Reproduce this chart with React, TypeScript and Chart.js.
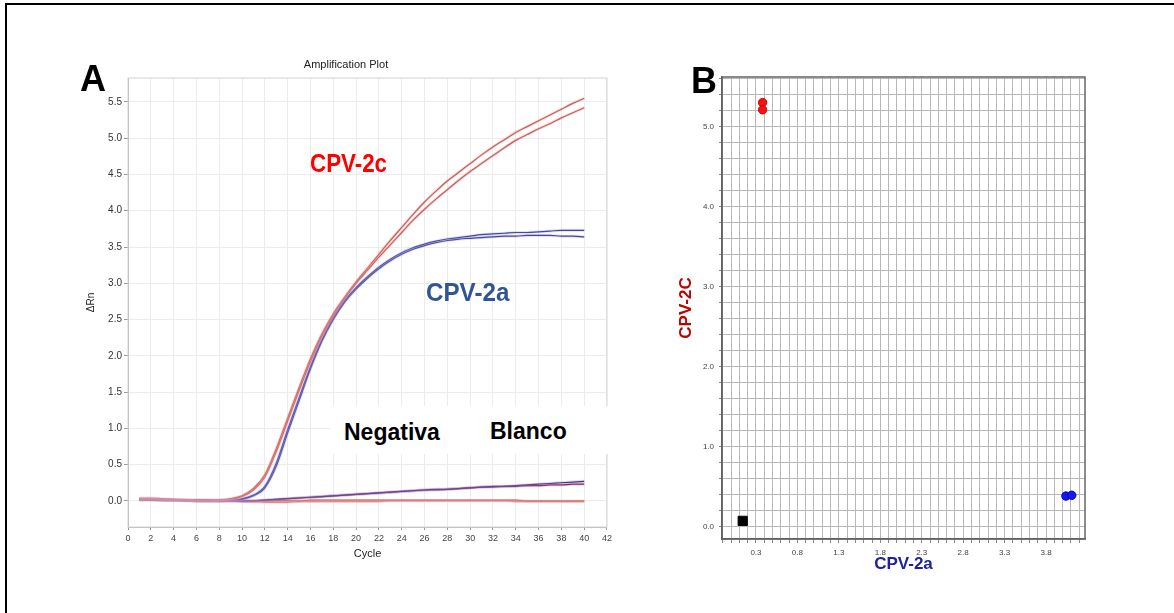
import React, { useEffect, useRef } from 'react';
import { Chart, registerables } from 'chart.js';

Chart.register(...registerables);

const FONT = '"Liberation Sans", Arial, sans-serif';

// ---------- Panel A: amplification plot (ΔRn vs cycle) ----------
const cycles = [1, 2, 3, 4, 5, 6, 7, 8, 9, 10, 11, 12, 13, 14, 15, 16, 17, 18, 19, 20,
  21, 22, 23, 24, 25, 26, 27, 28, 29, 30, 31, 32, 33, 34, 35, 36, 37, 38, 39, 40];

const cpv2cUpper = [0.03, 0.03, 0.02, 0.02, 0.01, 0.01, 0.01, 0.01, 0.03, 0.07, 0.17, 0.36, 0.72, 1.14, 1.56, 1.96, 2.3, 2.58, 2.81, 3.02,
  3.21, 3.4, 3.59, 3.77, 3.95, 4.12, 4.27, 4.41, 4.53, 4.65, 4.77, 4.88, 4.98, 5.08, 5.16, 5.24, 5.32, 5.4, 5.48, 5.55];
const cpv2cLower = [0.02, 0.02, 0.02, 0.01, 0.01, 0.0, 0.0, 0.01, 0.02, 0.06, 0.15, 0.33, 0.68, 1.1, 1.52, 1.92, 2.27, 2.55, 2.79, 3.0,
  3.18, 3.36, 3.53, 3.7, 3.87, 4.02, 4.16, 4.29, 4.42, 4.54, 4.65, 4.76, 4.87, 4.97, 5.05, 5.13, 5.2, 5.28, 5.35, 5.42];
const cpv2aUpper = [0.02, 0.02, 0.01, 0.01, 0.01, 0.0, 0.0, 0.0, 0.01, 0.03, 0.08, 0.2, 0.52, 0.98, 1.42, 1.85, 2.22, 2.52, 2.76, 2.94,
  3.09, 3.22, 3.33, 3.42, 3.49, 3.54, 3.58, 3.61, 3.63, 3.65, 3.67, 3.68, 3.69, 3.7, 3.7, 3.71, 3.72, 3.73, 3.73, 3.73];
const cpv2aLower = [0.01, 0.01, 0.01, 0.01, 0.0, 0.0, 0.0, 0.0, 0.01, 0.02, 0.07, 0.18, 0.48, 0.94, 1.38, 1.82, 2.2, 2.5, 2.74, 2.92,
  3.07, 3.2, 3.31, 3.4, 3.47, 3.52, 3.56, 3.59, 3.61, 3.62, 3.63, 3.64, 3.65, 3.65, 3.66, 3.66, 3.66, 3.65, 3.65, 3.64];
const negativaUpper = [0.02, 0.02, 0.02, 0.01, 0.01, 0.01, 0.01, 0.01, 0.01, 0.0, 0.0, 0.01, 0.02, 0.03, 0.04, 0.05, 0.06, 0.07, 0.08, 0.09,
  0.1, 0.11, 0.12, 0.13, 0.14, 0.15, 0.16, 0.16, 0.17, 0.18, 0.19, 0.2, 0.2, 0.21, 0.22, 0.23, 0.24, 0.25, 0.26, 0.27];
const negativaLower = [0.02, 0.02, 0.01, 0.01, 0.01, 0.01, 0.01, 0.0, 0.0, 0.0, 0.0, 0.01, 0.02, 0.03, 0.04, 0.05, 0.06, 0.07, 0.08, 0.09,
  0.1, 0.11, 0.12, 0.13, 0.14, 0.15, 0.15, 0.16, 0.17, 0.18, 0.19, 0.19, 0.2, 0.2, 0.21, 0.21, 0.22, 0.22, 0.23, 0.23];
const blancoUpper = [0.02, 0.02, 0.01, 0.01, 0.01, 0.0, 0.0, 0.0, 0.0, 0.0, 0.0, 0.0, 0.0, 0.0, 0.0, 0.01, 0.01, 0.01, 0.01, 0.01,
  0.01, 0.01, 0.01, 0.01, 0.01, 0.01, 0.01, 0.01, 0.01, 0.01, 0.01, 0.01, 0.01, 0.01, 0.0, 0.0, 0.0, 0.0, 0.0, 0.0];
const blancoLower = [0.04, 0.04, 0.03, 0.02, 0.01, 0.0, 0.0, 0.0, 0.0, -0.01, -0.01, -0.02, -0.02, -0.02, -0.01, -0.01, -0.01, -0.01, -0.01, -0.01,
  -0.01, -0.01, 0.0, 0.0, 0.0, 0.0, 0.0, 0.0, 0.0, 0.0, 0.0, 0.0, 0.0, -0.01, -0.01, -0.01, -0.01, -0.01, -0.01, -0.01];

// ---------- Panel B: allelic discrimination scatter ----------
const cpv2cX = [0.38, 0.38];
const cpv2cY = [5.3, 5.21];
const cpv2aX = [4.04, 4.11];
const cpv2aY = [0.38, 0.39];
const blankX = [0.14];
const blankY = [0.07];
const bXTickLabels = [0.3, 0.8, 1.3, 1.8, 2.3, 2.8, 3.3, 3.8];
const bYTickLabels = [0, 1, 2, 3, 4, 5];

const toPts = (ys: number[]) => cycles.map((c, i) => ({ x: c, y: ys[i] }));
const toXY = (xs: number[], ys: number[]) => xs.map((x, i) => ({ x, y: ys[i] }));

const frame = (color: string, width: number) => ({
  id: 'frame',
  beforeDatasetsDraw(chart: any) {
    const { ctx, chartArea: a } = chart;
    ctx.save();
    ctx.strokeStyle = color;
    ctx.lineWidth = width;
    ctx.strokeRect(a.left, a.top, a.right - a.left, a.bottom - a.top);
    ctx.restore();
  },
});

const Label = (p: { text: string; left: number; baseline: number; size: number; color: string; scaleX?: number; weight?: string }) => (
  <div
    style={{
      position: 'absolute',
      left: p.left,
      top: p.baseline - 0.8465 * p.size,
      fontSize: p.size,
      lineHeight: `${p.size}px`,
      fontWeight: (p.weight || 'bold') as any,
      color: p.color,
      whiteSpace: 'nowrap',
      fontFamily: FONT,
      transform: p.scaleX ? `scaleX(${p.scaleX})` : undefined,
      transformOrigin: 'left top',
    }}
  >
    {p.text}
  </div>
);

export default function App() {
  const refA = useRef<HTMLCanvasElement>(null);
  const refB = useRef<HTMLCanvasElement>(null);

  useEffect(() => {
    const curves = [
      { data: cpv2cUpper, color: '#b0433d', glow: 'rgba(236,150,150,0.35)' },
      { data: cpv2cLower, color: '#b0433d', glow: 'rgba(236,150,150,0.35)' },
      { data: cpv2aUpper, color: '#26267e', glow: 'rgba(150,150,225,0.3)' },
      { data: cpv2aLower, color: '#26267e', glow: 'rgba(150,150,225,0.3)' },
      { data: negativaUpper, color: '#2a1a60', glow: 'rgba(150,120,200,0.3)' },
      { data: negativaLower, color: '#5e1240', glow: 'rgba(200,110,160,0.3)' },
      { data: blancoUpper, color: '#8c4a3a', glow: 'rgba(230,160,150,0.3)' },
      { data: blancoLower, color: '#e0707a', glow: 'rgba(245,170,180,0.35)' },
    ];
    const glowSets = curves.map((c) => ({
      data: toPts(c.data), borderColor: c.glow, borderWidth: 3, pointRadius: 0, tension: 0.3, cubicInterpolationMode: 'monotone' as const,
    }));
    const lineSets = curves.map((c) => ({
      data: toPts(c.data), borderColor: c.color, borderWidth: 1.2, pointRadius: 0, tension: 0.3, cubicInterpolationMode: 'monotone' as const,
    }));

    const chartA = new Chart(refA.current!, {
      type: 'line',
      data: { datasets: [...glowSets, ...lineSets] as any },
      options: {
        animation: false,
        responsive: false,
        layout: { padding: { left: 0, right: 3, top: 0, bottom: 18 } },
        plugins: {
          legend: { display: false },
          tooltip: { enabled: false },
          title: {
            display: true, text: 'Amplification Plot', color: '#222',
            font: { family: FONT, size: 11, weight: 'normal' }, padding: { top: 8, bottom: 6.8 },
          },
        },
        scales: {
          x: {
            type: 'linear', min: 0, max: 42,
            afterFit: (s: any) => { s.height = 35; },
            ticks: { stepSize: 2, color: '#444', font: { family: FONT, size: 9 }, padding: 3, maxRotation: 0, autoSkip: false, includeBounds: false },
            grid: { color: '#ececec', tickColor: '#999', tickLength: 3 },
            border: { color: '#b5b5b5' },
            title: { display: true, text: 'Cycle', color: '#222', font: { family: FONT, size: 11 }, padding: { top: 0, bottom: 1 } },
          },
          y: {
            type: 'linear', min: -0.36, max: 5.83,
            afterFit: (s: any) => { s.width = 48; },
            ticks: {
              stepSize: 0.5, color: '#333', font: { family: FONT, size: 10 }, padding: 2, autoSkip: false, includeBounds: false,
              callback: (v: any) => Number(v).toFixed(1),
            },
            grid: { color: '#ececec', tickColor: '#999', tickLength: 4 },
            border: { color: '#b5b5b5' },
            title: { display: true, text: 'ΔRn', color: '#222', font: { family: FONT, size: 10 }, padding: { top: 5, bottom: 0 } },
          },
        },
      } as any,
      plugins: [frame('#d4d4d4', 1) as any],
    });

    const chartB = new Chart(refB.current!, {
      type: 'scatter',
      data: {
        datasets: [
          { data: toXY(cpv2cX, cpv2cY), pointRadius: 4.2, pointBackgroundColor: '#ee1414', pointBorderColor: '#d80000', pointBorderWidth: 1 },
          { data: toXY(cpv2aX, cpv2aY), pointRadius: 4.2, pointBackgroundColor: '#1818ee', pointBorderColor: '#0000d0', pointBorderWidth: 1 },
          { data: toXY(blankX, blankY), pointStyle: 'rect', pointRadius: 6.5, pointBackgroundColor: '#000', pointBorderColor: '#000', pointBorderWidth: 1 },
        ] as any,
      },
      options: {
        animation: false,
        responsive: false,
        layout: { padding: { left: 0, right: 15, top: 17, bottom: 15 } },
        plugins: { legend: { display: false }, tooltip: { enabled: false } },
        scales: {
          x: {
            type: 'linear', min: -0.11, max: 4.27,
            afterFit: (s: any) => { s.height = 36; },
            ticks: {
              stepSize: 0.1, color: '#444', font: { family: FONT, size: 8 }, padding: 5, maxRotation: 0, autoSkip: false, includeBounds: false,
              callback: (v: any) => (bXTickLabels.some((t) => Math.abs(t - Number(v)) < 1e-6) ? Number(v).toFixed(1) : ''),
            },
            grid: { color: '#b8b8b8', tickColor: '#888', tickLength: 4 },
            border: { color: '#555', width: 1.5 },
            title: { display: true, text: 'CPV-2a', color: '#2020a0', font: { family: FONT, size: 17, weight: 'bold' }, padding: { top: 0, bottom: 0 } },
          },
          y: {
            type: 'linear', min: -0.157, max: 5.62,
            afterFit: (s: any) => { s.width = 62; },
            ticks: {
              stepSize: 0.2, color: '#444', font: { family: FONT, size: 8 }, padding: 5, autoSkip: false, includeBounds: false,
              callback: (v: any) => (bYTickLabels.some((t) => Math.abs(t - Number(v)) < 1e-6) ? Number(v).toFixed(1) : ''),
            },
            grid: { color: '#b8b8b8', tickColor: '#888', tickLength: 3 },
            border: { color: '#555', width: 1.5 },
            title: { display: true, text: 'CPV-2C', color: '#c00000', font: { family: FONT, size: 17, weight: 'bold' }, padding: { top: 15.8, bottom: 0 } },
          },
        },
      } as any,
      plugins: [frame('#666', 1.5) as any],
    });

    return () => {
      chartA.destroy();
      chartB.destroy();
    };
  }, []);

  return (
    <div style={{ position: 'absolute', left: 0, top: 0, width: 1174, height: 613, background: '#fff', overflow: 'hidden', fontFamily: FONT }}>
      <div style={{ position: 'absolute', left: 5, top: 3, right: -10, bottom: -10, borderLeft: '2px solid #000', borderTop: '2px solid #000' }} />
      <canvas ref={refA} width={535} height={530} style={{ position: 'absolute', left: 80, top: 50 }} />
      <canvas ref={refB} width={440} height={530} style={{ position: 'absolute', left: 660, top: 60 }} />
      <div style={{ position: 'absolute', left: 330, top: 406, width: 281, height: 48, background: '#fff' }} />
      <Label text="A" left={80} baseline={91} size={36} color="#000" />
      <Label text="B" left={691} baseline={93} size={36} color="#000" />
      <Label text="CPV-2c" left={310} baseline={172} size={26} color="#ff0000" scaleX={0.86} />
      <Label text="CPV-2a" left={426} baseline={301} size={26} color="#2f5597" scaleX={0.93} />
      <Label text="Negativa" left={344} baseline={440} size={23} color="#000" />
      <Label text="Blanco" left={490} baseline={439} size={23} color="#000" />
    </div>
  );
}
